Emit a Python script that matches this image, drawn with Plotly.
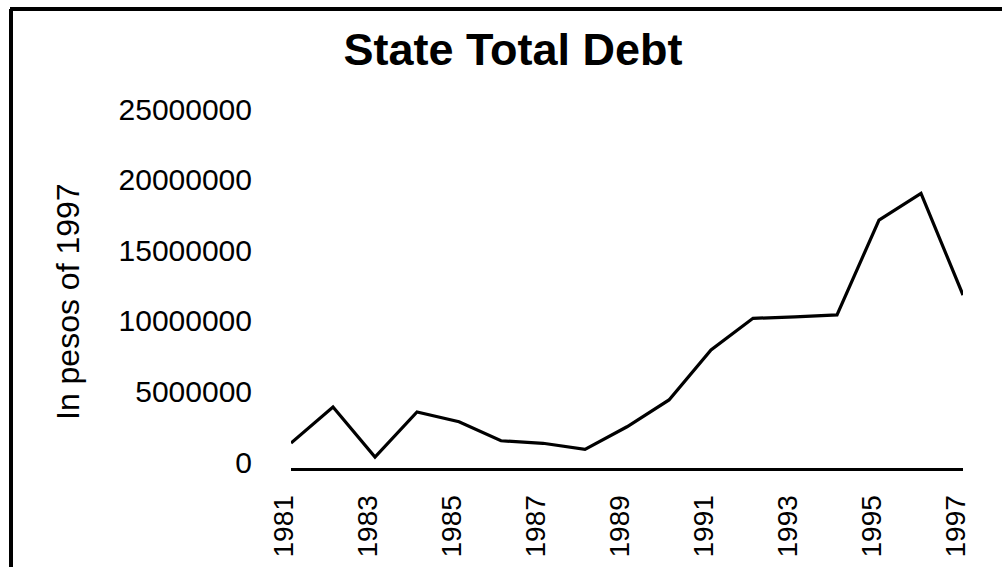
import plotly.graph_objects as go

years = list(range(1981, 1998))
debt = [1770000, 4320000, 780000, 3970000, 3280000, 1930000, 1750000, 1320000,
        2920000, 4820000, 8360000, 10600000, 10700000, 10840000, 17560000,
        19450000, 12250000]
x_ticks = list(range(1981, 1998, 2))
y_ticks = [0, 5000000, 10000000, 15000000, 20000000, 25000000]

W, H = 1002, 567
L, R, T, B = 291, 963, 115, 468  # plot area in pixels
pw, ph = R - L, B - T

def px(x):
    return (x - L) / pw

def py(y):
    return (B - y) / ph

font = "Liberation Sans, Arial, sans-serif"

fig = go.Figure(go.Scatter(
    x=years, y=debt, mode="lines",
    line=dict(color="black", width=3.2),
    hoverinfo="x+y",
))

fig.update_layout(
    template="none",
    width=W, height=H,
    margin=dict(l=L, r=W - R, t=T, b=H - B, pad=0),
    paper_bgcolor="white", plot_bgcolor="white",
    showlegend=False,
    title=dict(text="<b>State Total Debt</b>", x=513 / W, xanchor="center",
               y=1 - 49 / H, yanchor="middle",
               font=dict(family=font, size=45, color="black")),
    xaxis=dict(range=[1981, 1997], tickvals=x_ticks, automargin=False,
               ticktext=[str(v) for v in x_ticks], tickangle=-90,
               showgrid=False, zeroline=False, showline=True,
               linecolor="black", linewidth=3, ticks="",
               ticklabelstandoff=13, ticklabelshift=-7,
               tickfont=dict(family=font, size=28, color="black")),
    yaxis=dict(range=[0, 25000000], tickvals=y_ticks, automargin=False,
               ticktext=[str(v) for v in y_ticks],
               showgrid=False, zeroline=False, showline=False, ticks="",
               ticklabelstandoff=38, ticklabelshift=-6,
               tickfont=dict(family=font, size=30, color="black")),
    annotations=[dict(text="In pesos of 1997", xref="paper", yref="paper",
                      x=px(68), y=py(302), xanchor="center", yanchor="middle",
                      textangle=-90, showarrow=False,
                      font=dict(family=font, size=32, color="black"))],
    shapes=[
        dict(type="line", xref="paper", yref="paper", x0=px(10), x1=px(W + 5),
             y0=py(9), y1=py(9), line=dict(color="black", width=4)),
        dict(type="line", xref="paper", yref="paper", x0=px(11), x1=px(11),
             y0=py(9), y1=py(H + 5), line=dict(color="black", width=4)),
    ],
)

fig.write_html("out.html")
